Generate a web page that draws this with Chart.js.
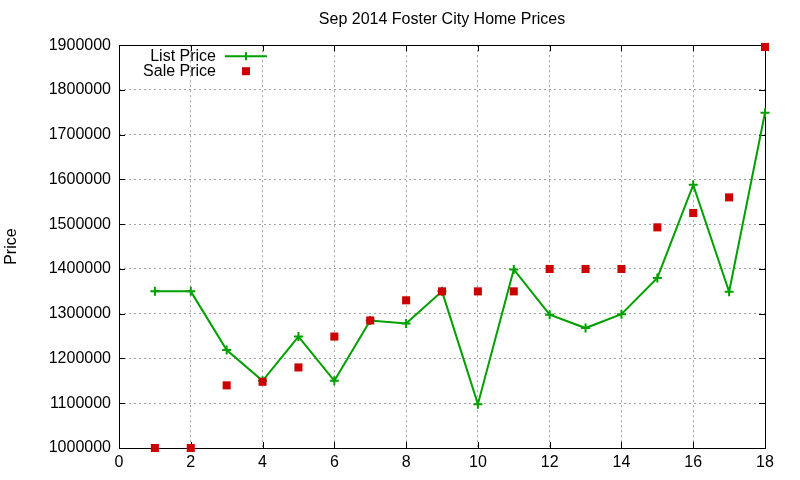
<!DOCTYPE html>
<html>
<head>
<meta charset="utf-8">
<script src="https://cdn.jsdelivr.net/npm/chart.js@4.4.1/dist/chart.umd.min.js"></script>
<style>
  html, body { margin: 0; padding: 0; background: #fff; }
  #wrap { width: 800px; height: 480px; }
</style>
</head>
<body>
<div id="wrap"><canvas id="chart"></canvas></div>
<script>
// data
const homeIndex = [1, 2, 3, 4, 5, 6, 7, 8, 9, 10, 11, 12, 13, 14, 15, 16, 17, 18];
const listPrice = [1350000, 1350000, 1219000, 1150000, 1249000, 1150000, 1285000, 1278000, 1350000,
  1098000, 1399000, 1298000, 1268000, 1299000, 1380000, 1588000, 1349000, 1749000];
const salePrice = [1000000, 1000000, 1140000, 1148000, 1180000, 1249000, 1285000, 1330000, 1350000,
  1350000, 1350000, 1400000, 1400000, 1400000, 1493000, 1525000, 1560000, 1896000];
const xTicks = [0, 2, 4, 6, 8, 10, 12, 14, 16, 18];
const yMin = 1000000, yMax = 1900000, yStep = 100000;

const FONT = "'Liberation Sans', Arial, sans-serif";
const GREEN = "#00a000";
const RED = "#cc0000";

const toPoints = (vals) => vals.map((v, i) => ({ x: homeIndex[i], y: v }));

// gnuplot style box + inward ticks on all four sides
const frame = {
  id: "frame",
  beforeDatasetsDraw(chart) {
    const { ctx, chartArea: a, scales } = chart;
    ctx.save();
    ctx.strokeStyle = "#000";
    ctx.lineWidth = 1;
    ctx.beginPath();
    xTicks.forEach((t) => {
      const px = Math.round(scales.x.getPixelForValue(t)) + 0.5;
      ctx.moveTo(px, a.bottom); ctx.lineTo(px, a.bottom - 6);
      ctx.moveTo(px, a.top); ctx.lineTo(px, a.top + 6);
    });
    for (let v = yMin; v <= yMax; v += yStep) {
      const py = Math.round(scales.y.getPixelForValue(v)) + 0.5;
      ctx.moveTo(a.left, py); ctx.lineTo(a.left + 6, py);
      ctx.moveTo(a.right, py); ctx.lineTo(a.right - 6, py);
    }
    ctx.stroke();
    ctx.strokeRect(Math.round(a.left) + 0.5, Math.round(a.top) + 0.5,
      Math.round(a.right - a.left), Math.round(a.bottom - a.top));
    ctx.restore();
  },
};

// key in the top-left corner, text right-aligned then the sample
const gnuKey = {
  id: "gnuKey",
  afterDraw(chart) {
    const { ctx, chartArea: a } = chart;
    const textRight = a.left + 97;
    const sampleMid = a.left + 127;
    ctx.save();
    ctx.font = `16px ${FONT}`;
    ctx.fillStyle = "#000";
    ctx.textAlign = "right";
    ctx.textBaseline = "middle";
    chart.data.datasets.forEach((ds, i) => {
      const y = a.top + 11 + i * 15;
      ctx.fillText(ds.label, textRight, y);
      if (ds.showLine) {
        ctx.strokeStyle = ds.borderColor;
        ctx.lineWidth = 2;
        ctx.beginPath();
        ctx.moveTo(sampleMid - 21, y); ctx.lineTo(sampleMid + 21, y);
        ctx.moveTo(sampleMid, y - 4); ctx.lineTo(sampleMid, y + 4);
        ctx.stroke();
      } else {
        ctx.fillStyle = ds.backgroundColor;
        ctx.fillRect(sampleMid - 4, y - 4, 8, 8);
        ctx.fillStyle = "#000";
      }
    });
    ctx.restore();
  },
};

new Chart(document.getElementById("chart"), {
  type: "scatter",
  data: {
    datasets: [
      {
        label: "List Price",
        data: toPoints(listPrice),
        showLine: true,
        borderColor: GREEN,
        backgroundColor: GREEN,
        borderWidth: 2,
        pointStyle: "cross",
        pointRadius: 4.5,
        pointBorderWidth: 2,
        tension: 0,
        clip: false,
        order: 2,
      },
      {
        label: "Sale Price",
        data: toPoints(salePrice),
        showLine: false,
        borderColor: RED,
        backgroundColor: RED,
        pointStyle: "rect",
        pointRadius: 5.7,
        pointBorderWidth: 0,
        clip: false,
        order: 1,
      },
    ],
  },
  options: {
    responsive: true,
    maintainAspectRatio: false,
    animation: false,
    layout: { padding: { top: 0, right: 35, bottom: 0, left: 0 } },
    plugins: {
      legend: { display: false },
      tooltip: { enabled: false },
      title: {
        display: true,
        fullSize: false,
        text: "Sep 2014 Foster City Home Prices",
        color: "#000",
        font: { family: FONT, size: 16, weight: "normal", lineHeight: 1.2 },
        padding: { top: 10, bottom: 16 },
      },
    },
    scales: {
      x: {
        type: "linear",
        min: 0,
        max: 18,
        afterBuildTicks: (s) => { s.ticks = xTicks.map((v) => ({ value: v })); },
        afterFit: (s) => { s.height = 32; },
        border: { display: false, dash: [2, 3] },
        grid: { color: "#a0a0a0", drawTicks: false, lineWidth: 1 },
        ticks: { color: "#000", padding: 5, font: { family: FONT, size: 16 } },
      },
      y: {
        min: yMin,
        max: yMax,
        afterFit: (s) => { s.width = 119; },
        border: { display: false, dash: [2, 3] },
        grid: { color: "#a0a0a0", drawTicks: false, lineWidth: 1 },
        ticks: {
          stepSize: yStep,
          color: "#000",
          padding: 8,
          font: { family: FONT, size: 16 },
          callback: (v) => String(v),
        },
        title: {
          display: true,
          text: "Price",
          color: "#000",
          font: { family: FONT, size: 16 },
          padding: { top: 2, bottom: 0 },
        },
      },
    },
  },
  plugins: [frame, gnuKey],
});
</script>
</body>
</html>
